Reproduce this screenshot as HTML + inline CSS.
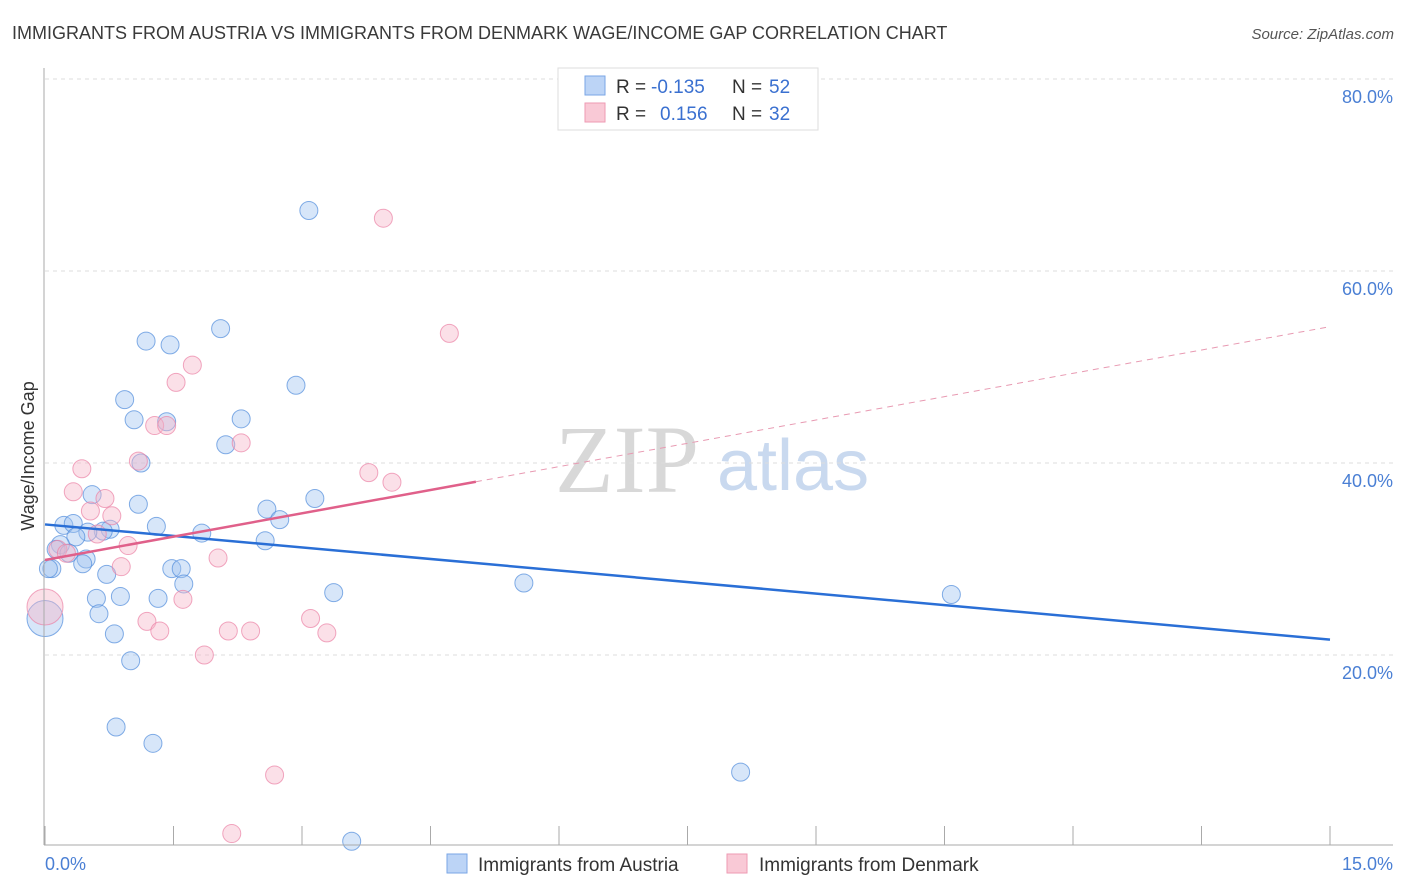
<!DOCTYPE html>
<html><head><meta charset="utf-8"><style>
body{margin:0;background:#fff;font-family:"Liberation Sans",sans-serif;}
</style></head><body>
<svg id="chart" width="1406" height="892" xmlns="http://www.w3.org/2000/svg" style="display:block">
<text x="12" y="39" font-size="18" fill="#3a3a3a">IMMIGRANTS FROM AUSTRIA VS IMMIGRANTS FROM DENMARK WAGE/INCOME GAP CORRELATION CHART</text>
<text x="1394" y="39" font-size="15" fill="#555" text-anchor="end" font-style="italic">Source: ZipAtlas.com</text>
<text x="555" y="492" font-size="96" fill="#d8d8d8" font-family="Liberation Serif,serif">ZIP</text>
<text x="717" y="490" font-size="72" fill="#c9d9ef">atlas</text>
<text transform="translate(34,456) rotate(-90)" font-size="18" fill="#333" text-anchor="middle">Wage/Income Gap</text>
<g id="grid"></g><g id="pts"></g><g id="lines"></g>
<line x1="44" y1="68" x2="44" y2="845" stroke="#aaa"/>
<line x1="44" y1="845" x2="1393" y2="845" stroke="#aaa"/>
<text x="45" y="870" font-size="18" fill="#4a7fd4">0.0%</text>
<text x="1393" y="870" font-size="18" fill="#4a7fd4" text-anchor="end">15.0%</text>
<g>
<rect x="558" y="68" width="260" height="62" fill="#fff" stroke="#ddd"/>
<rect x="585" y="76" width="20" height="19" fill="#bcd4f6" stroke="#7aa6e6"/>
<rect x="585" y="103" width="20" height="19" fill="#f9c9d6" stroke="#ee9ab3"/>
<text x="616" y="93" font-size="19" fill="#333">R =</text>
<text x="651" y="93" font-size="19" fill="#3a70d0">-0.135</text>
<text x="732" y="93" font-size="19" fill="#333">N =</text>
<text x="769" y="93" font-size="19" fill="#3a70d0">52</text>
<text x="616" y="120" font-size="19" fill="#333">R =</text>
<text x="660" y="120" font-size="19" fill="#3a70d0">0.156</text>
<text x="732" y="120" font-size="19" fill="#333">N =</text>
<text x="769" y="120" font-size="19" fill="#3a70d0">32</text>
</g>
<g>
<rect x="447" y="854" width="20" height="19" fill="#bcd4f6" stroke="#7aa6e6"/>
<text x="478" y="871" font-size="19" fill="#333">Immigrants from Austria</text>
<rect x="727" y="854" width="20" height="19" fill="#f9c9d6" stroke="#ee9ab3"/>
<text x="759" y="871" font-size="19" fill="#333">Immigrants from Denmark</text>
</g>
</svg>
<script>
const yTicks=[20,40,60,80];
const xTicks=[0,1.5,3,4.5,6,7.5,9,10.5,12,13.5,15];
const austriaX=[3.08,2.05,1.18,1.46,2.93,0.93,1.04,1.42,2.29,2.11,1.12,0.55,3.15,1.09,2.59,2.74,0.22,0.33,1.30,0.76,0.68,0.50,0.36,1.83,2.57,0.18,0.13,0.28,0.48,0.44,0.08,1.48,1.59,0.72,5.59,1.62,3.37,10.58,0.60,0.88,1.32,0.63,0.81,1.00,0.83,1.26,8.12,3.58,0.04,0.0];
const austriaY=[66.3,54.0,52.7,52.3,48.1,46.6,44.5,44.3,44.6,41.9,40.0,36.7,36.3,35.7,35.2,34.1,33.5,33.7,33.4,33.1,32.9,32.8,32.3,32.7,31.9,31.5,31.0,30.6,30.0,29.5,29.0,29.0,29.0,28.4,27.5,27.4,26.5,26.3,25.9,26.1,25.9,24.3,22.2,19.4,12.5,10.8,7.8,0.6,29.0,23.8];
const denmarkX=[3.95,4.72,1.72,1.53,1.28,1.42,2.29,1.09,0.43,3.78,4.05,0.33,0.70,0.53,0.78,0.61,0.15,0.25,0.97,2.02,0.89,1.61,1.19,1.34,2.14,2.40,3.10,3.29,1.86,2.68,2.18,0.0];
const denmarkY=[65.5,53.5,50.2,48.4,43.9,43.9,42.1,40.2,39.4,39.0,38.0,37.0,36.3,35.0,34.5,32.6,31.0,30.6,31.4,30.1,29.2,25.8,23.5,22.5,22.5,22.5,23.8,22.3,20.0,7.5,1.4,25.0];
const austriaTrend=[33.6,21.6];
const denmarkTrend=[29.9,54.2];
const denmarkSolidEnd=5.03;
const NS="http://www.w3.org/2000/svg";
const sx=v=>45+v/15*1285, sy=v=>847-v*9.6;
function mk(tag,attrs,parent){const e=document.createElementNS(NS,tag);for(const k in attrs)e.setAttribute(k,attrs[k]);document.getElementById(parent).appendChild(e);return e;}
yTicks.forEach(t=>{
 const l=mk('line',{x1:45,x2:1393,y1:sy(t),y2:sy(t),stroke:'#ddd','stroke-dasharray':'4,4'},'grid');
 
 
 const tx=mk('text',{x:1393,y:sy(t)+24,'font-size':18,fill:'#4a7fd4','text-anchor':'end'},'grid');
 tx.textContent=t.toFixed(1)+'%';
 
 
});
xTicks.forEach(t=>{
 const l=mk('line',{x1:sx(t),x2:sx(t),y1:826,y2:845,stroke:'#aaa'},'grid');
 
 
});
austriaX.forEach((x,i)=>{
 const big=(i===austriaX.length-1);
 const c=mk('circle',{cx:sx(x),cy:sy(austriaY[i]),r:big?18:9,fill:'rgba(160,195,240,0.42)',stroke:'rgba(80,140,220,0.7)','stroke-width':1},'pts');
 
 
});
denmarkX.forEach((x,i)=>{
 const big=(i===denmarkX.length-1);
 const c=mk('circle',{cx:sx(x),cy:sy(denmarkY[i]),r:big?18:9,fill:'rgba(245,180,200,0.42)',stroke:'rgba(235,130,165,0.7)','stroke-width':1},'pts');
 
 
});
const bl=mk('line',{x1:sx(0),y1:sy(austriaTrend[0]),x2:sx(15),y2:sy(austriaTrend[1]),stroke:'#2a6fd6','stroke-width':2.5},'lines');


const dAt=x=>denmarkTrend[0]+(denmarkTrend[1]-denmarkTrend[0])*x/15;
const pl=mk('line',{x1:sx(0),y1:sy(dAt(0)),x2:sx(denmarkSolidEnd),y2:sy(dAt(denmarkSolidEnd)),stroke:'#e0608a','stroke-width':2.5},'lines');


const pd=mk('line',{x1:sx(denmarkSolidEnd),y1:sy(dAt(denmarkSolidEnd)),x2:sx(15),y2:sy(dAt(15)),stroke:'#e89ab2','stroke-width':1,'stroke-dasharray':'6,5'},'lines');


</script>
</body></html>
